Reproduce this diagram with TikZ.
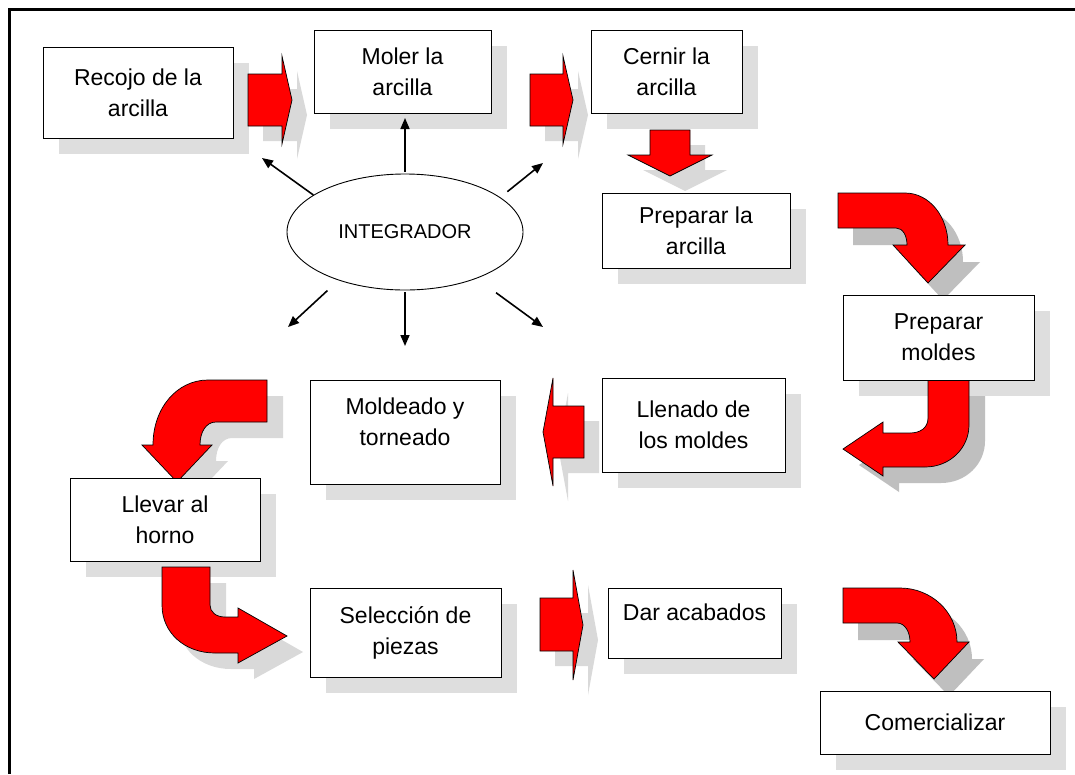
\documentclass[tikz,border=0pt]{standalone}
\usepackage{fontspec}
\setmainfont{Liberation Sans}
\usetikzlibrary{shapes.geometric,arrows.meta}
\pgfdeclarelayer{bg}
\pgfdeclarelayer{mid}
\pgfsetlayers{bg,mid,main}
\newcommand\arrA[1]{\path[#1] (248,74) -- (282,74) -- (282,56) -- (292,100) -- (282,144) -- (282,126) -- (248,126) -- cycle;}
\newcommand\arrB[1]{\path[#1] (530,74) -- (563,74) -- (563,56) -- (573,100) -- (563,144) -- (563,126) -- (530,126) -- cycle;}
\newcommand\arrC[1]{\path[#1] (650,130) -- (690,130) -- (690,155) -- (712,155) -- (670,176) -- (628,155) -- (650,155) -- cycle;}
\newcommand\arrD[1]{\path[#1] (584,406) -- (553,406) -- (553,378) -- (543,432) -- (553,486) -- (553,458) -- (584,458) -- cycle;}
\newcommand\arrE[1]{\path[#1] (540,598) -- (573,598) -- (573,570) -- (583,625) -- (573,680) -- (573,651) -- (540,651) -- cycle;}
\newcommand\curA[1]{\path[#1] (838,193) -- (905,193) .. controls (929,193) and (948,216) .. (948,245) -- (965,245) -- (928,283) -- (893,245) -- (907,245) .. controls (907,236) and (903,228) .. (896,228) -- (838,228) -- cycle;}
\newcommand\curB[1]{\path[#1] (928,380) -- (928,418) .. controls (928,428) and (920,433) .. (910,433) -- (883,433) -- (883,422) -- (843,449) -- (883,476) -- (883,467) -- (925,467) .. controls (950,467) and (969,448) .. (969,425) -- (969,380) -- cycle;}
\newcommand\curC[1]{\path[#1] (267,380) -- (208,380) .. controls (177,380) and (153,408) .. (153,445) -- (142,445) -- (177,482) -- (212,445) -- (200,445) .. controls (200,432) and (206,422) .. (216,422) -- (267,422) -- cycle;}
\newcommand\curD[1]{\path[#1] (162,567) -- (210,567) -- (210,605) .. controls (210,612) and (216,617) .. (225,617) -- (238,617) -- (238,608) -- (287,636) -- (238,663) -- (238,653) -- (215,653) .. controls (185,653) and (162,633) .. (162,605) -- cycle;}
\newcommand\curE[1]{\path[#1] (843,588) -- (900,588) .. controls (931,588) and (957,612) .. (957,642) -- (969,642) -- (934,679) -- (898,642) -- (910,642) .. controls (910,632) and (905,623) .. (897,623) -- (843,623) -- cycle;}
\begin{document}
\begin{tikzpicture}[x=1pt,y=-1pt,
  box/.style={draw=black, line width=0.9pt, fill=white, align=center, inner sep=0pt, font=\fontsize{23}{31}\selectfont},
  bshadow/.style={fill=black!13},
  dshadow/.style={fill=black!25},
  lshadow/.style={fill=black!15},
  redarrow/.style={fill=red, draw=black, line width=0.7pt, line join=miter},
  tarrow/.style={line width=1.6pt, -{Triangle[length=11pt,width=9pt]}}]
\useasboundingbox (0,0) rectangle (1075,774);
\draw[line width=3pt] (9,774) -- (9,9) -- (1075,9);
% boxes
\node[box, minimum width=190, minimum height=91] (recojo) at (138,92.5) {Recojo de la\\arcilla};
\node[box, minimum width=177, minimum height=83] (moler) at (402.5,71.5) {Moler la\\arcilla};
\node[box, minimum width=151, minimum height=83] (cernir) at (666.5,71.5) {Cernir la\\arcilla};
\node[box, minimum width=188, minimum height=75] (prepA) at (696,230.5) {Preparar la\\arcilla};
\node[box, minimum width=191, minimum height=85] (moldes) at (938.5,337.5) {Preparar\\moldes};
\node[box, minimum width=183, minimum height=94] (llenado) at (693.5,425) {Llenado de\\los moldes};
\node[box, minimum width=190, minimum height=104, text depth=20pt] (moldeado) at (405,432) {Moldeado y\\torneado};
\node[box, minimum width=190, minimum height=83] (llevar) at (165,519.5) {Llevar al\\horno};
\node[box, minimum width=191, minimum height=89] (seleccion) at (405.5,632.5) {Selección de\\piezas};
\node[box, minimum width=173, minimum height=70, text depth=22pt] (dar) at (694.5,623) {Dar acabados};
\node[box, minimum width=230, minimum height=63] (comerc) at (935,722.5) {Comercializar};
% integrator
\node[draw=black, line width=0.9pt, fill=white, ellipse, minimum width=236, minimum height=116, inner sep=0pt, font=\fontsize{20}{24}\selectfont] (integ) at (405,232) {INTEGRADOR};
\coordinate (eUL) at (262,158);
\coordinate (eU) at (405,118);
\coordinate (eUR) at (543,163);
\coordinate (eLL) at (288,327);
\coordinate (eD) at (405,346);
\coordinate (eLR) at (543,327);
\draw[tarrow] (integ.158) -- (eUL);
\draw[tarrow, shorten <=2pt] (integ.north) -- (eU);
\draw[tarrow, shorten <=9pt] (integ.20.6) -- (eUR);
\draw[tarrow, shorten <=15pt] (integ.216) -- (eLL);
\draw[tarrow, shorten <=2pt] (integ.south) -- (eD);
\draw[tarrow, shorten <=24pt] (integ.-33.3) -- (eLR);
% shadows
\begin{pgfonlayer}{bg}
\fill[white] (0,0) rectangle (1075,774);
\foreach \n in {recojo,moler,cernir,prepA,moldes,llenado,moldeado,llevar,seleccion,dar,comerc}{
  \fill[bshadow] ([shift={(16,16)}]\n.north west) rectangle ([shift={(16,16)}]\n.south east);
}
\arrA{lshadow, shift={(15,15)}}
\arrB{lshadow, shift={(15,15)}}
\arrC{lshadow, shift={(15,15)}}
\arrD{lshadow, shift={(15,15)}}
\arrE{lshadow, shift={(15,15)}}
\curA{dshadow, shift={(15,17)}}
\curB{dshadow, shift={(16,16)}}
\curC{lshadow, shift={(16,16)}}
\curD{lshadow, shift={(16,16)}}
\curE{dshadow, shift={(15,17)}}
\end{pgfonlayer}
\begin{pgfonlayer}{mid}
\arrA{redarrow}
\arrB{redarrow}
\arrC{redarrow}
\arrD{redarrow}
\arrE{redarrow}
\curA{redarrow}
\curB{redarrow}
\curC{redarrow}
\curD{redarrow}
\curE{redarrow}
\end{pgfonlayer}
\end{tikzpicture}
\end{document}
